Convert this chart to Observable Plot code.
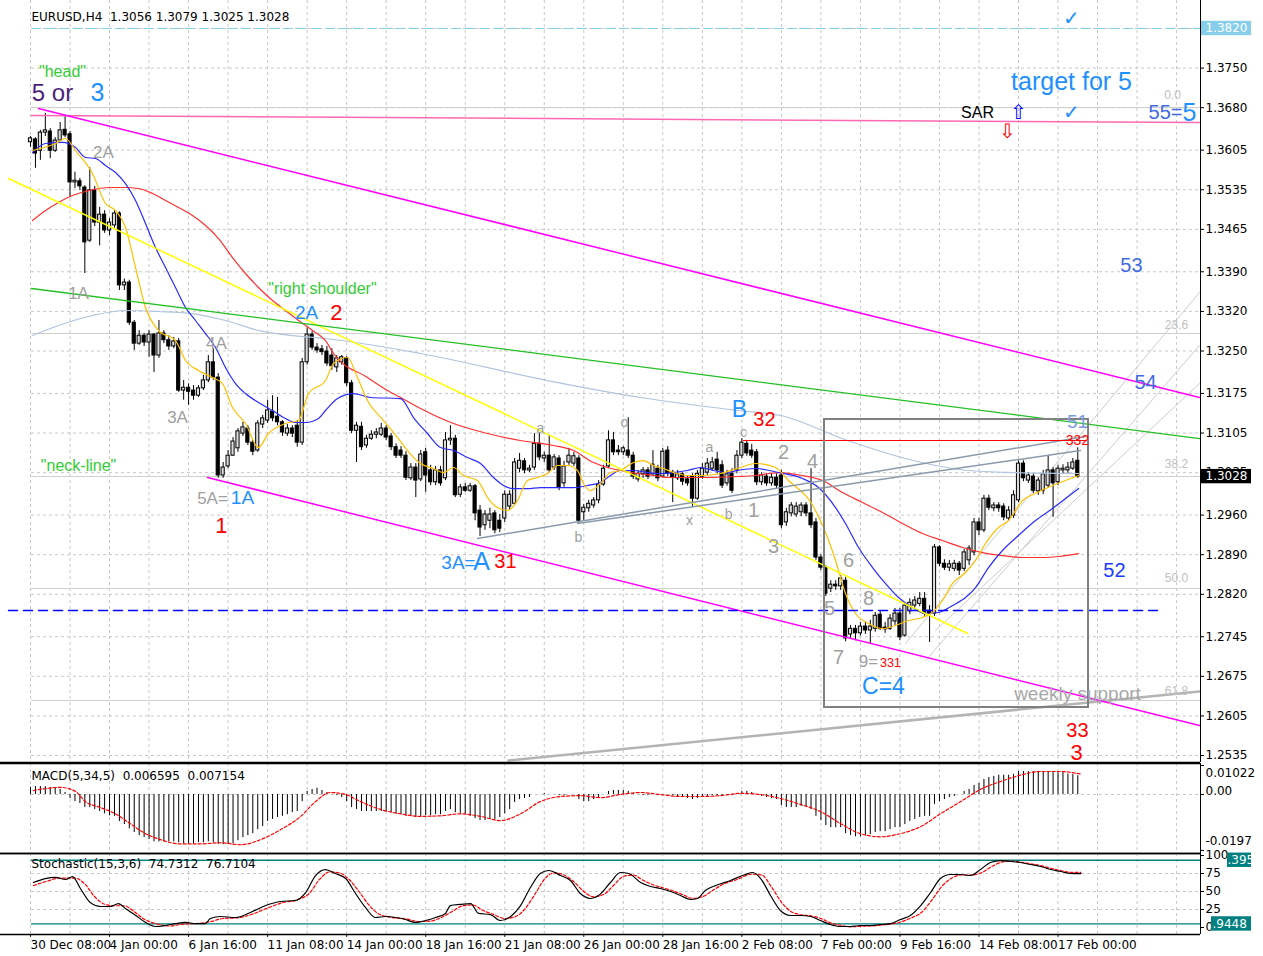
<!DOCTYPE html>
<html><head><meta charset="utf-8">
<style>
body{margin:0;background:#fff;}
#root{position:relative;width:1263px;height:956px;overflow:hidden;background:#fff;}
.panel{position:absolute;left:0;}
</style>
</head><body>
<div id="root"></div>
<script src="https://cdn.jsdelivr.net/npm/d3@7"></script>
<script src="https://cdn.jsdelivr.net/npm/@observablehq/plot@0.6"></script>
<script>
// ---------------- DATA ----------------
const header = "EURUSD,H4  1.3056 1.3079 1.3025 1.3028";
const macdTitle = "MACD(5,34,5)  0.006595  0.007154";
const stochTitle = "Stochastic(15,3,6)  74.7312  76.7104";

const open = [1.3619,1.3624,1.3604,1.3636,1.3638,1.3604,1.3622,1.3641,1.3633,1.3548,
1.3550,1.3539,1.3445,1.3534,1.3477,1.3491,1.3463,1.3472,1.3493,1.3366,
1.3371,1.3300,1.3263,1.3277,1.3265,1.3279,1.3242,1.3281,1.3269,1.3258,
1.3267,1.3180,1.3185,1.3180,1.3171,1.3184,1.3198,1.3230,1.3203,1.3030,
1.3046,1.3065,1.3078,1.3104,1.3113,1.3088,1.3074,1.3120,1.3127,1.3143,
1.3134,1.3124,1.3104,1.3113,1.3118,1.3088,1.3230,1.3279,1.3256,1.3253,
1.3249,1.3242,1.3221,1.3230,1.3237,1.3193,1.3109,1.3116,1.3083,1.3095,
1.3102,1.3102,1.3113,1.3099,1.3080,1.3074,1.3065,1.3025,1.3044,1.3023,
1.3071,1.3039,1.3018,1.3039,1.3025,1.3092,1.3095,1.2996,1.3009,1.3003,
1.3011,1.2968,1.2942,1.2950,1.2963,1.2950,1.2954,1.2975,1.2980,1.3042,
1.3055,1.3039,1.3044,1.3086,1.3060,1.3065,1.3044,1.3060,1.3016,1.3053,
1.3051,1.3060,1.2965,1.2972,1.2977,1.2986,1.3014,1.3046,1.3092,1.3074,
1.3071,1.3074,1.3065,1.3023,1.3032,1.3039,1.3032,1.3042,1.3028,1.3074,
1.3035,1.3025,1.3032,1.3023,1.3028,1.2989,1.3028,1.3035,1.3042,1.3058,
1.3048,1.3016,1.3033,1.3039,1.3065,1.3086,1.3074,1.3071,1.3018,1.3028,
1.3016,1.3026,1.3030,1.2947,1.2963,1.2961,1.2965,1.2977,1.2963,1.2947,
1.2885,1.2867,1.2830,1.2837,1.2834,1.2844,1.2749,1.2759,1.2751,1.2763,
1.2756,1.2759,1.2784,1.2761,1.2759,1.2772,1.2786,1.2747,1.2790,1.2800,
1.2803,1.2812,1.2791,1.2786,1.2903,1.2874,1.2867,1.2865,1.2874,1.2865,
1.2880,1.2894,1.2947,1.2933,1.2989,1.2972,1.2977,1.2975,1.2954,1.2959,
1.2986,1.3051,1.3021,1.3028,1.3002,1.3003,1.3012,1.3039,1.3018,1.3039,
1.3039,1.3042,1.3056];
const high = [1.3629,1.3627,1.3640,1.3670,1.3643,1.3627,1.3654,1.3666,1.3638,1.3566,
1.3555,1.3542,1.3574,1.3541,1.3504,1.3498,1.3484,1.3498,1.3496,1.3377,
1.3375,1.3304,1.3286,1.3281,1.3286,1.3281,1.3304,1.3286,1.3277,1.3274,
1.3272,1.3198,1.3192,1.3189,1.3189,1.3207,1.3242,1.3254,1.3210,1.3053,
1.3074,1.3097,1.3113,1.3124,1.3118,1.3092,1.3127,1.3136,1.3163,1.3171,
1.3168,1.3127,1.3120,1.3118,1.3127,1.3237,1.3291,1.3284,1.3263,1.3260,
1.3258,1.3254,1.3242,1.3242,1.3240,1.3198,1.3124,1.3124,1.3101,1.3109,
1.3113,1.3122,1.3118,1.3104,1.3086,1.3081,1.3072,1.3051,1.3051,1.3074,
1.3078,1.3048,1.3046,1.3046,1.3106,1.3118,1.3101,1.3014,1.3016,1.3016,
1.3014,1.2977,1.2968,1.2972,1.2968,1.2961,1.3003,1.3003,1.3060,1.3069,
1.3060,1.3048,1.3104,1.3106,1.3071,1.3101,1.3067,1.3065,1.3055,1.3078,
1.3071,1.3065,1.2979,1.2986,1.2991,1.3021,1.3048,1.3109,1.3106,1.3083,
1.3081,1.3132,1.3071,1.3039,1.3044,1.3044,1.3074,1.3048,1.3078,1.3081,
1.3039,1.3039,1.3035,1.3028,1.3033,1.3039,1.3051,1.3060,1.3062,1.3071,
1.3056,1.3039,1.3042,1.3074,1.3095,1.3092,1.3085,1.3076,1.3035,1.3033,
1.3033,1.3033,1.3039,1.2972,1.2982,1.2982,1.2982,1.2982,1.3042,1.2954,
1.2890,1.2871,1.2844,1.2844,1.2853,1.2850,1.2765,1.2765,1.2770,1.2770,
1.2774,1.2788,1.2791,1.2770,1.2784,1.2795,1.2795,1.2805,1.2812,1.2816,
1.2823,1.2823,1.2800,1.2908,1.2906,1.2881,1.2880,1.2880,1.2878,1.2899,
1.2906,1.2954,1.2954,1.2995,1.2995,1.2982,1.2982,1.2980,1.2975,1.3003,
1.3056,1.3056,1.3035,1.3033,1.3026,1.3039,1.3065,1.3044,1.3048,1.3049,
1.3053,1.3060,1.3079];
const low = [1.3610,1.3573,1.3587,1.3629,1.3590,1.3601,1.3620,1.3627,1.3521,1.3537,
1.3534,1.3387,1.3442,1.3470,1.3436,1.3458,1.3454,1.3467,1.3357,1.3357,
1.3295,1.3251,1.3260,1.3258,1.3239,1.3212,1.3237,1.3263,1.3251,1.3254,
1.3177,1.3163,1.3154,1.3163,1.3168,1.3180,1.3194,1.3198,1.3025,1.3025,
1.3042,1.3064,1.3071,1.3099,1.3083,1.3065,1.3071,1.3113,1.3122,1.3125,
1.3118,1.3099,1.3099,1.3097,1.3080,1.3083,1.3225,1.3251,1.3246,1.3242,
1.3223,1.3216,1.3212,1.3225,1.3187,1.3104,1.3053,1.3074,1.3078,1.3092,
1.3095,1.3099,1.3092,1.3074,1.3060,1.3060,1.3021,1.3021,1.2991,1.3019,
1.3000,1.3012,1.3012,1.3011,1.3021,1.3083,1.2991,1.2991,1.3000,1.3000,
1.2950,1.2922,1.2933,1.2936,1.2927,1.2929,1.2947,1.2968,1.2977,1.3035,
1.3033,1.3035,1.3039,1.3056,1.3053,1.3035,1.3039,1.3003,1.3009,1.3048,
1.3046,1.2945,1.2950,1.2965,1.2972,1.2980,1.3011,1.3042,1.3065,1.3065,
1.3065,1.3060,1.3023,1.3018,1.3025,1.3023,1.3028,1.3019,1.3025,1.3028,
1.2982,1.3021,1.3012,1.3011,1.2973,1.2986,1.3023,1.3030,1.3037,1.3033,
1.3007,1.3011,1.2998,1.3033,1.3060,1.3064,1.3060,1.3012,1.3012,1.3011,
1.3011,1.3007,1.2936,1.2940,1.2957,1.2956,1.2957,1.2957,1.2936,1.2880,
1.2862,1.2816,1.2823,1.2827,1.2827,1.2736,1.2742,1.2738,1.2746,1.2749,
1.2733,1.2753,1.2756,1.2751,1.2756,1.2765,1.2738,1.2744,1.2784,1.2795,
1.2798,1.2781,1.2735,1.2781,1.2869,1.2862,1.2860,1.2860,1.2853,1.2860,
1.2871,1.2888,1.2924,1.2929,1.2968,1.2966,1.2965,1.2950,1.2949,1.2954,
1.2982,1.3019,1.3016,1.2998,1.2995,1.2996,1.3007,1.2956,1.3012,1.3032,
1.3033,1.3039,1.3025];
const close = [1.3626,1.3599,1.3636,1.3640,1.3604,1.3622,1.3640,1.3631,1.3548,1.3551,
1.3541,1.3442,1.3534,1.3477,1.3491,1.3463,1.3477,1.3493,1.3366,1.3371,
1.3300,1.3263,1.3277,1.3265,1.3279,1.3242,1.3281,1.3269,1.3258,1.3267,
1.3180,1.3185,1.3178,1.3171,1.3184,1.3198,1.3230,1.3203,1.3030,1.3044,
1.3065,1.3090,1.3108,1.3115,1.3088,1.3072,1.3122,1.3131,1.3145,1.3131,
1.3124,1.3106,1.3113,1.3104,1.3088,1.3230,1.3279,1.3256,1.3251,1.3248,
1.3228,1.3223,1.3237,1.3239,1.3193,1.3109,1.3118,1.3080,1.3095,1.3102,
1.3106,1.3113,1.3097,1.3080,1.3065,1.3065,1.3026,1.3044,1.3021,1.3067,
1.3030,1.3018,1.3039,1.3016,1.3092,1.3095,1.2995,1.3009,1.3003,1.3011,
1.2963,1.2938,1.2961,1.2961,1.2933,1.2936,1.2996,1.2996,1.3053,1.3056,
1.3039,1.3042,1.3086,1.3062,1.3065,1.3039,1.3062,1.3009,1.3046,1.3065,
1.3064,1.2950,1.2973,1.2980,1.2986,1.3014,1.3042,1.3092,1.3071,1.3071,
1.3078,1.3065,1.3028,1.3033,1.3039,1.3028,1.3049,1.3025,1.3072,1.3033,
1.3026,1.3032,1.3019,1.3016,1.2989,1.3033,1.3042,1.3051,1.3053,1.3039,
1.3012,1.3032,1.3003,1.3065,1.3088,1.3069,1.3065,1.3018,1.3030,1.3016,
1.3026,1.3012,1.2942,1.2965,1.2977,1.2975,1.2977,1.2963,1.2942,1.2885,
1.2867,1.2821,1.2837,1.2834,1.2848,1.2742,1.2759,1.2751,1.2763,1.2756,
1.2763,1.2782,1.2759,1.2758,1.2777,1.2786,1.2744,1.2800,1.2805,1.2809,
1.2812,1.2786,1.2786,1.2903,1.2874,1.2867,1.2873,1.2874,1.2862,1.2894,
1.2901,1.2947,1.2933,1.2989,1.2973,1.2977,1.2972,1.2956,1.2968,1.2995,
1.3051,1.3025,1.3030,1.3003,1.3021,1.3032,1.3039,1.3016,1.3042,1.3042,
1.3044,1.3053,1.3028];

// moving averages: [bar, price]
const yellowMA = [[0.40,1.36044],[5.06,1.36168],[7.09,1.36256],[9.11,1.36044],[12.55,1.35637],[15.18,1.35107],[17.21,1.34983],[19.23,1.34683],[21.26,1.33976],[23.28,1.33269],[25.91,1.32862],[29.35,1.32685],[31.38,1.32332],[34.01,1.32155],[36.84,1.32031],[38.87,1.31925],[40.89,1.31501],[43.52,1.31218],[46.15,1.30794],[48.18,1.31042],[51.62,1.31218],[54.25,1.31271],[56.28,1.31748],[59.72,1.31978],[61.34,1.32279],[64.17,1.32385],[66.19,1.32031],[68.22,1.31625],[71.46,1.31271],[74.3,1.30971],[76.3,1.30741],[78.95,1.30511],[81.58,1.30423],[83.60,1.30352],[85.63,1.30441],[87.65,1.30300],[90.49,1.30211],[92.51,1.29910],[94.53,1.29733],[96.56,1.29681],[98.58,1.29857],[100.61,1.30211],[102.63,1.30264],[104.66,1.30335],[106.68,1.30476],[108.70,1.30476],[110.73,1.30388],[111.94,1.30158],[113.36,1.30034],[115.38,1.30158],[117.41,1.30352],[119.43,1.30388],[122.06,1.30529],[124.09,1.30564],[126.11,1.30476],[128.14,1.30423],[130.16,1.30352],[133.0,1.30300],[136.23,1.30300],[139.68,1.30335],[143.12,1.30423],[146.76,1.30512],[150.81,1.30441],[153.44,1.30211],[158.10,1.29804],[160.53,1.29380],[162.96,1.28797],[164.98,1.28214],[167.00,1.27861],[169.64,1.27684],[172.47,1.27595],[175.10,1.27648],[177.73,1.27736],[180.57,1.27790],[182.59,1.27878],[184.62,1.28090],[186.64,1.28391],[189.27,1.28585],[191.30,1.28797],[193.32,1.29097],[195.95,1.29380],[197.98,1.29504],[200.81,1.29857],[203.44,1.29981],[206.88,1.30123],[209.51,1.30211],[212.15,1.30300]];
const blueMA = [[0.40,1.36008],[3.04,1.36168],[6.48,1.36186],[9.11,1.36097],[11.13,1.35920],[13.16,1.35902],[15.18,1.35779],[17.21,1.35655],[19.23,1.35460],[21.26,1.35160],[23.28,1.34753],[25.30,1.34329],[27.33,1.33976],[29.35,1.33622],[31.38,1.33269],[33.40,1.33039],[35.43,1.32809],[37.45,1.32562],[39.47,1.32208],[41.50,1.31925],[43.52,1.31748],[46.15,1.31590],[48.99,1.31448],[51.62,1.31307],[53.64,1.31236],[55.67,1.31236],[58.30,1.31307],[59.72,1.31448],[62.15,1.31660],[65.38,1.31748],[68.83,1.31678],[74.90,1.31660],[77.53,1.31324],[80.36,1.31042],[83.00,1.30794],[85.63,1.30741],[88.46,1.30617],[91.09,1.30511],[93.72,1.30264],[95.75,1.30123],[97.77,1.30069],[100.61,1.30069],[103.24,1.30087],[105.87,1.30087],[109.92,1.30087],[112.75,1.30123],[115.38,1.30176],[117.41,1.30300],[119.43,1.30388],[122.06,1.30388],[124.90,1.30352],[127.53,1.30335],[130.16,1.30352],[133.0,1.30388],[135.63,1.30441],[138.26,1.30388],[141.09,1.30352],[143.12,1.30388],[146.76,1.30423],[151.42,1.30352],[156.28,1.30246],[159.51,1.30087],[162.96,1.29733],[164.98,1.29450],[167.61,1.29026],[170.45,1.28673],[173.08,1.28390],[175.71,1.28143],[178.54,1.27966],[181.17,1.27861],[183.81,1.27878],[186.64,1.28002],[189.27,1.28143],[191.30,1.28320],[193.93,1.28673],[196.76,1.28974],[200.0,1.29240],[203.44,1.29504],[206.88,1.29716],[209.51,1.29893],[212.15,1.30070]];
const redMA = [[0.40,1.34806],[3.04,1.34983],[5.67,1.35125],[8.50,1.35248],[11.13,1.35319],[13.77,1.35372],[16.60,1.35390],[19.23,1.35390],[21.86,1.35372],[24.70,1.35284],[27.33,1.35160],[29.96,1.35036],[32.79,1.34895],[35.43,1.34718],[38.06,1.34488],[40.89,1.34152],[43.52,1.33870],[46.15,1.33622],[48.99,1.33392],[51.62,1.33216],[54.25,1.33039],[57.09,1.32862],[59.72,1.32685],[61.34,1.32456],[68.22,1.32031],[72.27,1.31802],[74.90,1.31678],[78.95,1.31483],[85.63,1.31218],[92.51,1.31042],[99.19,1.30918],[105.87,1.30830],[109.92,1.30741],[113.97,1.30529],[116.80,1.30441],[119.43,1.30388],[122.87,1.30335],[126.11,1.30300],[129.55,1.30264],[136.23,1.30264],[143.12,1.30282],[146.76,1.30300],[151.42,1.30352],[156.28,1.30300],[160.32,1.30211],[164.37,1.29999],[168.42,1.29822],[172.47,1.29646],[176.52,1.29451],[180.57,1.29274],[184.62,1.29150],[188.66,1.29027],[192.71,1.28938],[196.76,1.28885],[200.81,1.28850],[204.86,1.28850],[208.10,1.28868],[212.15,1.28920]];
const slowMA = [[0.40,1.32773],[5.67,1.32950],[12.55,1.33127],[19.23,1.33216],[25.91,1.33198],[32.79,1.33162],[39.47,1.33039],[46.15,1.32862],[53.04,1.32773],[59.72,1.32721],[78.95,1.32456],[104.66,1.31978],[123.48,1.31678],[143.12,1.31448],[151.82,1.31360],[165.38,1.30918],[178.74,1.30564],[189.88,1.30388],[198.99,1.30352],[212.15,1.30335]];

// drawn objects: [bar, price] end points
const topDashed = [[0.2,1.3820],[236.84,1.3820]];
const pinkLine = [[0.2,1.36662],[236.64,1.36539]];
const magentaUpper = [[1.62,1.36786],[236.64,1.31678]];
const magentaLower = [[35.83,1.30264],[236.64,1.25880]];
const yellowTrend = [[-4.45,1.35549],[189.68,1.27507]];
const greenTrend = [[0.2,1.33605],[236.64,1.30953]];
const blueDashed = [[-4.45,1.27913],[228.34,1.27913]];
const redLevel = [[144.33,1.30918],[213.97,1.30918]];
const slate1 = [[90.49,1.29186],[213.56,1.30989]];
const slate2 = [[110.73,1.29451],[212.55,1.30741]];
const weeklySupport = [[96.76,1.25262],[236.64,1.26482]];
const channelLines = [
  [[177.1,1.27330],[236.64,1.33534]],
  [[181.2,1.27030],[236.64,1.32597]],
  [[183.2,1.27560],[236.64,1.31925]]
];
const boxRect = [{i1:160.73, i2:214.17, p1:1.26199, p2:1.31289}];
const fibPrices = [1.36804, 1.32809, 1.30282, 1.28302, 1.26322];

// annotations: text, bar, price, kind
const annots = [
  ['"head"',6.48,1.37440,"green"],['5 or',4.45,1.37060,"purple"],['3',13.56,1.37060,"blueXL"],
  ['2A',14.78,1.36008,"grey"],['1A',9.72,1.33516,"grey"],['"right shoulder"',59.1,1.33605,"green"],
  ['2A',55.87,1.33181,"blueM"],['2',61.94,1.33181,"redL"],['4A',37.65,1.32633,"grey"],
  ['3A',29.76,1.31325,"grey"],['"neck-line"',9.72,1.30476,"green"],['5A=',36.84,1.29893,"grey"],
  ['1A',42.91,1.29910,"blueM"],['1',38.66,1.29415,"redL"],['3A=',86.64,1.28762,"blueM"],
  ['A',91.3,1.28762,"blueXL"],['31',96.15,1.28780,"redM"],
  ['a',103.24,1.31130,"greyS"],['o',120.24,1.31236,"greyS"],['a',137.45,1.30794,"greyS"],
  ['c',144.33,1.31060,"greyS"],['b',110.93,1.29203,"greyS"],['x',133.40,1.29504,"greyS"],
  ['b',141.30,1.29610,"greyS"],['1',146.36,1.29681,"greyL"],['2',152.43,1.30706,"greyL"],
  ['3',150.40,1.29044,"greyL"],['4',158.30,1.30547,"greyL"],['B',143.52,1.31466,"blueL"],
  ['32',148.58,1.31289,"redM"],['5',161.74,1.27951,"greyL"],['6',165.59,1.28797,"greyL"],
  ['7',163.56,1.27082,"greyL"],['8',169.64,1.28125,"greyL"],['9=',169.63,1.27012,"grey"],
  ['331',174.09,1.26994,"redXS"],['C=4',172.67,1.26570,"blueL"],
  ['weekly support',211.94,1.26447,"weekly"],['33',211.94,1.25793,"redM"],['3',211.74,1.25404,"redL"],
  ['52',219.43,1.28620,"blue52"],['53',222.87,1.34006,"royal"],['54',225.71,1.31943,"royal"],
  ['51',211.94,1.31254,"light51"],['332',211.94,1.30918,"redS"],
  ['target for 5',210.73,1.37263,"blueXL"],['SAR',191.70,1.36715,"black"],
  ['\u21E7',200.0,1.36715,"arrowB"],['\u21E9',197.77,1.36380,"arrowR"],
  ['\u2713',210.73,1.36715,"check"],['\u2713',210.73,1.38377,"check"],
  ['55=',229.76,1.36715,"royal"],['5',234.62,1.36715,"blueXL"],
  ['0.0',231.17,1.37016,"fib"],['23.6',231.98,1.32951,"fib"],['38.2',231.98,1.30494,"fib"],
  ['50.0',231.98,1.28479,"fib"],['61.8',231.98,1.26482,"fib"]
];

const priceTicks = [1.3820,1.3750,1.3680,1.3605,1.3535,1.3465,1.3390,1.3320,1.3250,1.3175,1.3105,1.3035,1.2960,1.2890,1.2820,1.2745,1.2675,1.2605,1.2535];
const lastPrice = 1.3028;
const topLinePrice = 1.3820;
const timeLabelBars = [0,16,32,48,64,80,96,112,128,144,160,176,192,208];
const timeLabels = ["30 Dec 08:00","4 Jan 00:00","6 Jan 16:00","11 Jan 08:00","14 Jan 00:00","18 Jan 16:00","21 Jan 08:00","26 Jan 00:00","28 Jan 16:00","2 Feb 08:00","7 Feb 00:00","9 Feb 16:00","14 Feb 08:00","17 Feb 00:00"];

const macdHist = [.0025,.0028,.0028,.0028,.0025,.0025,.0018,.0007,-.0014,-.0025,
-.0032,-.0046,-.0046,-.0053,-.0060,-.0068,-.0075,-.0077,-.0095,-.0106,
-.0121,-.0134,-.0145,-.0152,-.0159,-.0167,-.0167,-.0167,-.0167,-.0167,
-.0170,-.0174,-.0174,-.0174,-.0170,-.0170,-.0167,-.0170,-.0176,-.0177,
-.0176,-.0174,-.0163,-.0152,-.0145,-.0138,-.0124,-.0113,-.0095,-.0088,
-.0081,-.0077,-.0071,-.0064,-.0060,-.0025,.0011,.0018,.0022,.0014,
.0007,0,-.0004,-.0011,-.0025,-.0046,-.0053,-.0060,-.0060,-.0060,
-.0060,-.0060,-.0060,-.0064,-.0068,-.0071,-.0077,-.0077,-.0081,-.0077,
-.0075,-.0075,-.0071,-.0071,-.0060,-.0053,-.0064,-.0068,-.0071,-.0077,
-.0085,-.0092,-.0092,-.0088,-.0088,-.0081,-.0068,-.0053,-.0028,-.0018,
-.0014,-.0011,0,0,.0004,0,0,-.0004,-.0004,0,
0,-.0018,-.0025,-.0025,-.0018,-.0011,0,.0011,.0014,.0014,
.0014,.0011,.0004,0,-.0004,-.0004,0,-.0004,0,0,
-.0004,-.0007,-.0011,-.0014,-.0018,-.0014,-.0011,-.0007,-.0004,-.0004,
-.0004,-.0004,-.0004,.0004,.0011,.0011,.0007,0,-.0007,-.0011,
-.0014,-.0018,-.0039,-.0046,-.0046,-.0046,-.0042,-.0046,-.0053,-.0077,
-.0092,-.0110,-.0117,-.0117,-.0117,-.0138,-.0145,-.0149,-.0149,-.0145,
-.0141,-.0134,-.0131,-.0131,-.0124,-.0117,-.0117,-.0106,-.0095,-.0088,
-.0081,-.0077,-.0077,-.0035,-.0025,-.0018,-.0011,-.0007,0,.0011,
.0018,.0032,.0039,.0053,.0060,.0064,.0068,.0068,.0068,.0071,
.0081,.0081,.0081,.0081,.0081,.0081,.0081,.0077,.0077,.0077,
.0072,.0070,.0066];
const macdSignal = [[0.6,.0014],[6.1,.0025],[9.1,.0011],[11.1,-.0025],[14.2,-.0046],[17.2,-.0068],[20.2,-.0103],[23.3,-.0138],[26.3,-.0159],[30.4,-.0174],[34.4,-.0174],[38.5,-.0170],[42.5,-.0177],[46.6,-.0159],[50.6,-.0124],[54.7,-.0077],[57.7,-.0025],[60.7,.0007],[63.8,0],[66.8,-.0025],[70.9,-.0053],[74.9,-.0068],[78.9,-.0077],[83.0,-.0075],[87.0,-.0068],[91.1,-.0077],[95.1,-.0092],[99.2,-.0068],[103.2,-.0025],[107.3,-.0007],[111.3,-.0004],[115.4,-.0011],[119.4,0],[123.5,.0007],[127.5,0],[131.6,-.0007],[135.6,-.0007],[139.7,-.0004],[143.7,.0004],[147.8,0],[151.8,-.0014],[155.9,-.0035],[159.9,-.0060],[164.0,-.0103],[168.0,-.0138],[172.1,-.0149],[176.1,-.0138],[180.2,-.0113],[184.2,-.0068],[188.3,-.0025],[192.3,.0018],[196.4,.0046],[200.4,.0068],[204.5,.0081],[208.5,.0081],[212.6,.0072]];
const macdTicks = [0.01022, 0, -0.0197];
const macdTickLabels = ["0.01022","0.00","-0.0197"];

const stochMain = [[0.6,62.5],[3.0,68.0],[5.1,69.5],[7.1,66.7],[8.5,70.8],[10.1,54.2],[12.1,34.7],[14.2,29.2],[16.2,29.2],[17.8,33.3],[19.2,26.4],[21.3,16.7],[23.3,7.0],[25.3,1.4],[27.3,2.8],[29.4,5.5],[31.4,7.0],[33.4,5.5],[35.4,5.5],[36.4,12.5],[38.5,15.3],[41.5,13.9],[44.5,20.8],[47.6,30.5],[50.6,36.1],[53.6,37.5],[55.7,48.6],[57.7,72.2],[59.7,80.5],[61.7,75.0],[63.8,68.0],[65.8,47.2],[67.8,27.8],[69.8,13.9],[71.9,15.3],[73.9,13.9],[75.9,11.1],[77.9,7.0],[80.0,9.7],[82.0,13.9],[84.0,19.5],[85.0,30.5],[87.0,32.0],[89.1,33.3],[90.7,19.5],[93.1,18.0],[95.1,9.7],[97.2,15.3],[99.2,30.5],[101.2,55.5],[103.2,75.0],[104.9,79.2],[107.3,72.2],[109.3,65.3],[111.3,47.2],[113.4,40.3],[115.0,44.5],[117.4,62.5],[119.4,76.4],[121.1,75.0],[123.5,62.5],[125.5,57.0],[127.5,54.2],[129.6,50.0],[131.6,44.5],[133.6,38.9],[135.0,40.3],[136.6,51.4],[138.7,58.3],[141.7,65.3],[144.7,73.6],[146.2,76.4],[147.8,68.0],[149.8,44.5],[151.8,23.6],[153.8,16.7],[155.9,16.7],[157.9,15.3],[159.9,9.7],[161.9,4.2],[164.0,1.4],[166.0,1.4],[168.0,2.8],[170.0,2.8],[172.1,4.2],[174.1,5.5],[176.1,11.1],[178.1,16.7],[180.2,30.5],[182.2,48.6],[184.2,68.0],[186.2,73.6],[188.3,73.6],[190.3,72.2],[192.3,80.5],[194.3,90.3],[196.4,93.0],[198.4,91.7],[200.4,90.3],[202.4,87.5],[204.5,84.7],[206.5,80.5],[208.5,77.8],[210.5,75.0],[212.6,74.7]];
const stochSignal = [[0.6,58.3],[3.5,64.6],[6,68.7],[9,68.7],[11,60.4],[13,42.7],[15,32.3],[17,30.2],[19,30.2],[21,21.9],[23,11.5],[25.5,5.2],[28,2.1],[31,4.7],[34,5.7],[36.5,8.3],[39,12.5],[42,13.5],[45,18.8],[48,27.1],[51,34.4],[54,38.5],[56.5,47.9],[58.5,66.7],[60.5,77.1],[62.5,76.0],[64.5,66.7],[66.5,50.0],[68.5,31.3],[70.5,18.8],[73,14.1],[76,12.0],[78.5,8.3],[81,8.9],[83,13.5],[85.5,22.9],[87.5,30.2],[89.5,31.3],[91.5,24.0],[93.5,18.8],[96,12.5],[98,14.6],[100,25.0],[102,44.8],[104,66.7],[106,76.0],[108,72.9],[110,63.5],[112,50.0],[114,42.7],[116,45.8],[118,58.3],[120,70.8],[122,72.9],[124,65.6],[126,59.4],[128,55.2],[130,51.0],[132,45.8],[134,40.6],[136,42.7],[138,51.0],[140,59.4],[143,66.7],[146,74.0],[148,72.9],[150,56.3],[152,35.4],[154,21.9],[156,17.7],[158,16.1],[160,12.5],[162,6.3],[164,3.1],[166,1.0],[168,1.6],[170,2.1],[172,3.1],[174,4.7],[176,7.3],[178,12.5],[180.5,21.9],[182.5,38.5],[184.5,57.3],[186.5,68.7],[188.5,72.9],[190.5,72.9],[192.5,76.0],[194.5,84.4],[196.5,90.6],[198.5,92.2],[200.5,90.6],[202.5,88.5],[204.5,85.9],[206.5,82.3],[208.5,79.2],[210.5,76.6],[212.6,76.7]];
const stochTicks = [100,75,50,25,0];
const stochLevels = [93.395, 4.9448];
const stochLevelLabels = [".395", ".9448"];

// ---------------- RENDER ----------------
const X_DOMAIN = [-6.073, 236.84];
const XR = X_DOMAIN[1];
const gridBars = d3.range(0, 237, 8);
const bars = close.map((c, i) => ({i, o: open[i], h: high[i], l: low[i], c}));
const FONT = "DejaVu Sans";
const AFONT = "Liberation Sans";
const kinds = {
  green:{c:"#32cd32",s:16}, purple:{c:"#4b1f7a",s:24}, blueXL:{c:"#1e90ff",s:25},
  blueL:{c:"#1e90ff",s:23}, blueM:{c:"#1e90ff",s:19}, grey:{c:"#a0a0a0",s:17},
  greyL:{c:"#a0a0a0",s:20}, greyS:{c:"#a0a0a0",s:14}, redL:{c:"#ff0000",s:22},
  redM:{c:"#ff0000",s:20}, redS:{c:"#ff0000",s:14}, redXS:{c:"#ff0000",s:12.5},
  royal:{c:"#4169e1",s:20}, blue52:{c:"#1a3cff",s:20}, light51:{c:"#7d9be0",s:19},
  weekly:{c:"#a8a8a8",s:19}, fib:{c:"#c0c0c0",s:12}, black:{c:"#000",s:16},
  arrowB:{c:"#0000ff",s:20}, arrowR:{c:"#ff0000",s:20}, check:{c:"#1e90ff",s:20}
};
const seg = (pts, o) => Plot.line(pts, {x: d => d[0], y: d => d[1], ...o});
const baseStyle = {fontFamily: FONT, fontSize: "12px", background: "transparent", overflow: "visible"};
const pxToBar = 4.9401; // px per bar (only for right-axis label boxes)

const yMain = [1.25227, 1.38695];
const main = Plot.plot({
  width: 1263, height: 764, marginTop: 0, marginBottom: 2, marginLeft: 0, marginRight: 63,
  x: {domain: X_DOMAIN, axis: null},
  y: {domain: yMain, axis: null},
  color: {type: "identity"},
  style: baseStyle,
  marks: [
    Plot.ruleX(gridBars, {stroke: "#c8c8c8", strokeDasharray: "3,3"}),
    Plot.ruleY(priceTicks, {x1: 0.2, x2: XR, stroke: "#c8c8c8", strokeDasharray: "3,3"}),
    Plot.ruleY(fibPrices, {x1: 0.2, x2: XR, stroke: "#cfcfcf"}),
    seg(weeklySupport, {stroke: "#b4b4b4", strokeWidth: 2.5}),
    ...channelLines.map(l => seg(l, {stroke: "#cccccc", strokeWidth: 1})),
    // candles
    Plot.ruleX(bars, {x: "i", y1: "l", y2: "h", stroke: "#000", strokeWidth: 1}),
    Plot.rect(bars, {x1: d => d.i - 0.32, x2: d => d.i + 0.32, y1: "o", y2: "c",
      fill: d => d.c >= d.o ? "#dcdcdc" : "#000", stroke: "#000", strokeWidth: 1}),
    // moving averages
    seg(slowMA, {stroke: "#b0c4de", strokeWidth: 1.2, curve: "monotone-x"}),
    seg(redMA, {stroke: "#ff3030", strokeWidth: 1.2, curve: "monotone-x"}),
    seg(blueMA, {stroke: "#2b2bff", strokeWidth: 1.2, curve: "monotone-x"}),
    seg(yellowMA, {stroke: "#ffc000", strokeWidth: 1.2, curve: "monotone-x"}),
    // objects
    seg(topDashed, {stroke: "#87ceeb", strokeDasharray: "9,5", strokeWidth: 1.2}),
    seg(pinkLine, {stroke: "#ff69b4", strokeWidth: 1.5}),
    seg(magentaUpper, {stroke: "#ff00ff", strokeWidth: 1.5}),
    seg(magentaLower, {stroke: "#ff00ff", strokeWidth: 1.5}),
    seg(yellowTrend, {stroke: "#ffff00", strokeWidth: 1.5}),
    seg(greenTrend, {stroke: "#22c022", strokeWidth: 1.3}),
    seg(slate1, {stroke: "#8a9aaa", strokeWidth: 1.5}),
    seg(slate2, {stroke: "#8a9aaa", strokeWidth: 1.5}),
    seg(redLevel, {stroke: "#ff0000", strokeWidth: 1.2}),
    seg(blueDashed, {stroke: "#0000ff", strokeDasharray: "9,6", strokeWidth: 1.5}),
    Plot.rect(boxRect, {x1: "i1", x2: "i2", y1: "p1", y2: "p2", fill: "none", stroke: "#808080", strokeWidth: 2}),
    // annotations
    ...Object.entries(kinds).map(([k, st]) => Plot.text(annots.filter(a => a[3] === k), {
      x: d => d[1], y: d => d[2], text: d => d[0], fill: st.c, fontSize: st.s, fontFamily: AFONT
    })),
    Plot.text([header], {frameAnchor: "top-left", dx: 31, dy: 12, text: d => d, fill: "#000", fontSize: 12}),
    // right axis
    Plot.ruleY(priceTicks, {x1: XR, x2: XR + 4 / pxToBar, stroke: "#000"}),
    Plot.text(priceTicks, {x: XR, y: d => d, text: d => d.toFixed(4), dx: 5, textAnchor: "start", fill: "#000", fontSize: 12}),
    Plot.rect([topLinePrice], {x1: XR + 1 / pxToBar, x2: XR + 51 / pxToBar, y1: d => d - 0.00127, y2: d => d + 0.00127, fill: "#87ceeb"}),
    Plot.text([topLinePrice], {x: XR, y: d => d, text: d => d.toFixed(4), dx: 5, textAnchor: "start", fill: "#fff", fontSize: 12}),
    Plot.rect([lastPrice], {x1: XR + 1 / pxToBar, x2: XR + 51 / pxToBar, y1: d => d - 0.00127, y2: d => d + 0.00127, fill: "#000"}),
    Plot.text([lastPrice], {x: XR, y: d => d, text: d => d.toFixed(4), dx: 5, textAnchor: "start", fill: "#fff", fontSize: 12}),
    Plot.ruleX([XR], {stroke: "#000"}),
    Plot.ruleY([yMain[0]], {x1: X_DOMAIN[0], x2: XR, stroke: "#000", strokeWidth: 1.5})
  ]
});

const yMacd = [-0.020791, 0.010924];
const macdBars = macdHist.map((v, i) => ({i, v}));
const macd = Plot.plot({
  width: 1263, height: 90, marginTop: 0, marginBottom: 0, marginLeft: 0, marginRight: 63,
  x: {domain: X_DOMAIN, axis: null},
  y: {domain: yMacd, axis: null},
  style: baseStyle,
  marks: [
    Plot.ruleX(gridBars, {stroke: "#c8c8c8", strokeDasharray: "3,3"}),
    Plot.ruleY([0], {x1: 0.2, x2: XR, stroke: "#c8c8c8", strokeDasharray: "3,3"}),
    Plot.ruleX(macdBars, {x: "i", y1: 0, y2: "v", stroke: "#000", strokeWidth: 1}),
    seg(macdSignal, {stroke: "#ff0000", strokeDasharray: "3,2", strokeWidth: 1.2, curve: "monotone-x"}),
    Plot.text([macdTitle], {frameAnchor: "top-left", dx: 31, dy: 8, text: d => d, fill: "#000", fontSize: 12}),
    Plot.ruleY(macdTicks, {x1: XR, x2: XR + 4 / pxToBar, stroke: "#000"}),
    Plot.text([0], {x: XR, y: () => macdTicks[0], text: () => macdTickLabels[0], dx: 5, dy: 8, textAnchor: "start", fill: "#000", fontSize: 12}),
    Plot.text([0], {x: XR, y: () => macdTicks[1], text: () => macdTickLabels[1], dx: 5, dy: -3, textAnchor: "start", fill: "#000", fontSize: 12}),
    Plot.text([0], {x: XR, y: () => macdTicks[2], text: () => macdTickLabels[2], dx: 5, dy: -9, textAnchor: "start", fill: "#000", fontSize: 12}),
    Plot.ruleX([XR], {stroke: "#000"}),
    Plot.ruleY([yMacd[1]], {x1: X_DOMAIN[0], x2: XR, stroke: "#000", strokeWidth: 1.5}),
    Plot.ruleY([yMacd[0]], {x1: X_DOMAIN[0], x2: XR, stroke: "#000", strokeWidth: 1.5})
  ]
});

const yStoch = [-9.72, 102.78];
const stoch = Plot.plot({
  width: 1263, height: 103, marginTop: 0, marginBottom: 22, marginLeft: 0, marginRight: 63,
  x: {domain: X_DOMAIN, axis: null},
  y: {domain: yStoch, axis: null},
  style: baseStyle,
  marks: [
    Plot.ruleX(gridBars, {stroke: "#c8c8c8", strokeDasharray: "3,3"}),
    Plot.ruleY([75, 50, 25], {x1: 0.2, x2: XR, stroke: "#c8c8c8", strokeDasharray: "3,3"}),
    Plot.ruleY(stochLevels, {x1: 0.2, x2: XR, stroke: "#008080", strokeWidth: 1.3}),
    seg(stochSignal, {stroke: "#ff0000", strokeDasharray: "3,2", strokeWidth: 1.2, curve: "monotone-x"}),
    seg(stochMain, {stroke: "#000", strokeWidth: 1.2, curve: "monotone-x"}),
    Plot.text([stochTitle], {frameAnchor: "top-left", dx: 31, dy: 6, text: d => d, fill: "#000", fontSize: 12}),
    Plot.ruleY(stochTicks, {x1: XR, x2: XR + 4 / pxToBar, stroke: "#000"}),
    Plot.text(stochTicks, {x: XR, y: d => d, text: d => String(d), dx: 5, textAnchor: "start", fill: "#000", fontSize: 12}),
    Plot.rect([stochLevels[0]], {x1: XR + 27 / pxToBar, x2: XR + 51 / pxToBar, y1: d => d - 10, y2: d => d + 10, fill: "#008080"}),
    Plot.text([stochLevels[0]], {x: XR, y: d => d, text: () => stochLevelLabels[0], dx: 27, textAnchor: "start", fill: "#fff", fontSize: 12}),
    Plot.rect([stochLevels[1]], {x1: XR + 11 / pxToBar, x2: XR + 51 / pxToBar, y1: d => d - 10, y2: d => d + 10, fill: "#008080"}),
    Plot.text([stochLevels[1]], {x: XR, y: d => d, text: () => stochLevelLabels[1], dx: 12, textAnchor: "start", fill: "#fff", fontSize: 12}),
    Plot.ruleX([XR], {stroke: "#000"}),
    Plot.ruleY([yStoch[1]], {x1: X_DOMAIN[0], x2: XR, stroke: "#000", strokeWidth: 1.5}),
    Plot.ruleY([yStoch[0]], {x1: X_DOMAIN[0], x2: XR, stroke: "#000", strokeWidth: 1.5}),
    // time axis
    Plot.ruleX(timeLabelBars, {y1: yStoch[0], y2: yStoch[0] - 4, stroke: "#000"}),
    Plot.text(timeLabelBars, {x: d => d, y: yStoch[0], text: (d, k) => timeLabels[k], dy: 11, textAnchor: "start", fill: "#000", fontSize: 12})
  ]
});

const root = document.getElementById("root");
[[main, 0], [macd, 763], [stoch, 853]].forEach(([svg, top]) => {
  const div = document.createElement("div");
  div.className = "panel";
  div.style.top = top + "px";
  div.appendChild(svg);
  root.appendChild(div);
});
</script>
</body></html>
